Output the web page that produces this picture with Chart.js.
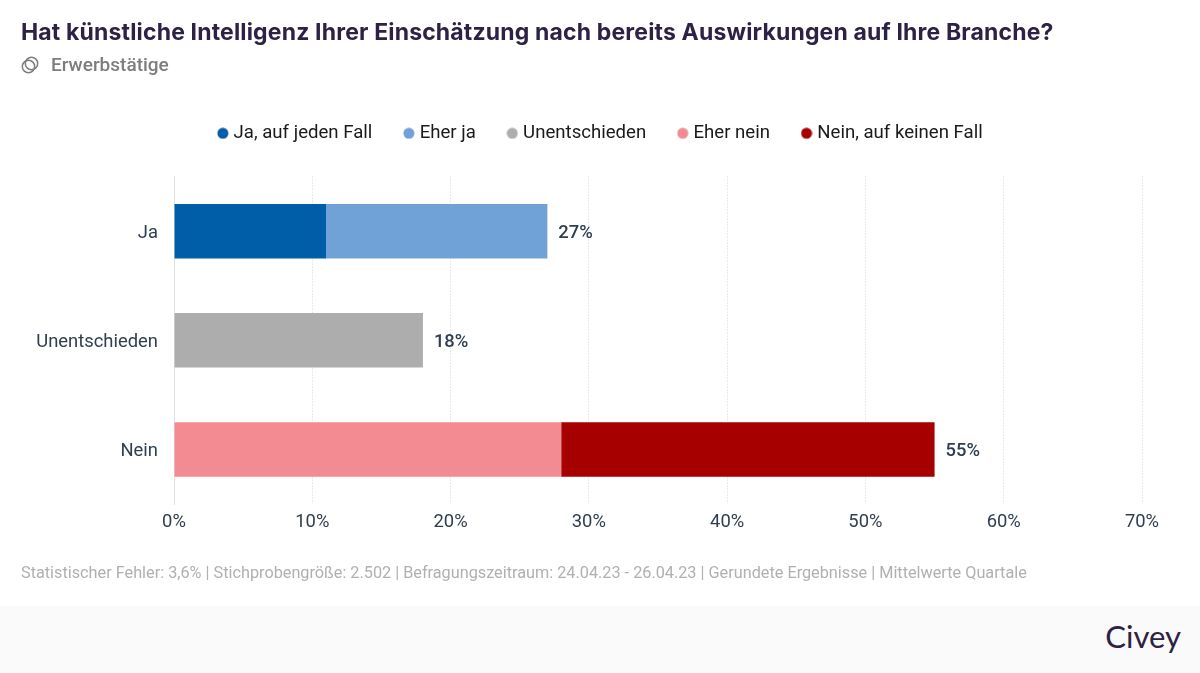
<!DOCTYPE html>
<html lang="de">
<head>
<meta charset="utf-8">
<title>Civey</title>
<script src="https://cdn.jsdelivr.net/npm/chart.js@4"></script>
<style>
  html, body { margin: 0; padding: 0; background: #fff; }
  #page { position: relative; width: 1200px; height: 673px; overflow: hidden; font-family: Roboto, sans-serif; }
  #chart { position: absolute; left: 0; top: 0; }
  #title { position: absolute; left: 21px; top: 17px; font: 700 23px/30px Inter, sans-serif; letter-spacing: 0.16px; color: #2d2145; white-space: nowrap; }
  #sub { position: absolute; left: 51px; top: 54px; font: 500 19px/22px Roboto, sans-serif; color: #7d7d7d; }
  #icon { position: absolute; left: 21px; top: 56px; }
  #note { position: absolute; left: 21px; top: 563px; font: 400 16.25px/20px Roboto, sans-serif; color: #b0b0b0; white-space: nowrap; }
  #footer { position: absolute; left: 0; top: 606px; width: 1200px; height: 67px; background: #fafafa; }
  #logo { position: absolute; right: 19px; top: 10px; font: 400 31px/40px Lato, sans-serif; color: #2d2145; }
</style>
</head>
<body>
<div id="page">
  <canvas id="chart" width="1200" height="606"></canvas>
  <div id="title">Hat künstliche Intelligenz Ihrer Einschätzung nach bereits Auswirkungen auf Ihre Branche?</div>
  <svg id="icon" width="19" height="19" viewBox="0 0 19 19" fill="none" stroke="#7d7d7d" stroke-width="1.5">
    <circle cx="7.5" cy="10.5" r="6.2"></circle>
    <circle cx="10.5" cy="7.5" r="6.2"></circle>
  </svg>
  <div id="sub">Erwerbstätige</div>
  <div id="note">Statistischer Fehler: 3,6% | Stichprobengröße: 2.502 | Befragungszeitraum: 24.04.23 - 26.04.23 | Gerundete Ergebnisse | Mittelwerte Quartale</div>
  <div id="footer"><div id="logo">Civey</div></div>
</div>
<script>
var categories = ['Ja', 'Unentschieden', 'Nein'];
var seriesNames = ['Ja, auf jeden Fall', 'Eher ja', 'Unentschieden', 'Eher nein', 'Nein, auf keinen Fall'];
var jaAufJedenFall = [11, 0, 0];
var eherJa = [16, 0, 0];
var unentschieden = [0, 18, 0];
var eherNein = [0, 0, 28];
var neinAufKeinenFall = [0, 0, 27];
var totals = [27, 18, 55];
var xTicks = [0, 10, 20, 30, 40, 50, 60, 70];
var colors = ['#005ea8', '#70a1d7', '#adadad', '#f28b92', '#a60000'];

// legend dots, chart.js ties the gap to the box size otherwise
function dot(color) {
  var c = document.createElement('canvas');
  c.width = 12;
  c.height = 12;
  var g = c.getContext('2d');
  g.fillStyle = color;
  g.beginPath();
  g.arc(6, 6, 5.5, 0, Math.PI * 2);
  g.fill();
  return c;
}

function makeSet(i, values) {
  return {
    label: seriesNames[i],
    data: values,
    backgroundColor: colors[i],
    pointStyle: dot(colors[i]),
    borderWidth: 0,
    categoryPercentage: 1,
    barPercentage: 0.5
  };
}

// total next to each bar
var totalLabels = {
  id: 'totalLabels',
  afterDatasetsDraw: function(chart) {
    var ctx = chart.ctx;
    var x = chart.scales.x;
    var y = chart.scales.y;
    ctx.save();
    ctx.font = '500 18.4px Roboto';
    ctx.fillStyle = '#2f3e50';
    ctx.textBaseline = 'middle';
    totals.forEach(function(t, i) {
      ctx.fillText(t + '%', x.getPixelForValue(t) + 11, y.getPixelForValue(i) + 2);
    });
    ctx.restore();
  }
};

// more room under the legend, and centre it on the page not the plot
var legendGap = {
  id: 'legendGap',
  beforeInit: function(chart) {
    var fit = chart.legend.fit;
    chart.legend.fit = function() {
      fit.call(this);
      this.height += 24;
    };
  },
  afterLayout: function(chart) {
    chart.legend.right = chart.width + 4;
  }
};

var myChart = new Chart(document.getElementById('chart').getContext('2d'), {
  type: 'bar',
  data: {
    labels: categories,
    datasets: [
      makeSet(0, jaAufJedenFall),
      makeSet(1, eherJa),
      makeSet(2, unentschieden),
      makeSet(3, eherNein),
      makeSet(4, neinAufKeinenFall)
    ]
  },
  options: {
    indexAxis: 'y',
    responsive: false,
    animation: false,
    layout: { padding: { top: 89, right: 58, left: 0, bottom: 0 } },
    plugins: {
      tooltip: { enabled: false },
      legend: {
        position: 'top',
        align: 'center',
        labels: {
          usePointStyle: true,
          boxWidth: 3,
          boxHeight: 3,
          padding: 35,
          color: '#1a1a1a',
          font: { family: 'Roboto', size: 18.6 }
        }
      }
    },
    scales: {
      x: {
        stacked: true,
        min: 0,
        max: 70,
        afterFit: function(scale) { scale.height = 102; },
        afterBuildTicks: function(scale) { scale.ticks = xTicks.map(function(v) { return { value: v }; }); },
        border: { display: false, dash: [1, 2] },
        grid: {
          color: function(c) { return c.tick.value === 0 ? 'transparent' : '#d4d4d4'; },
          lineWidth: 1,
          drawTicks: false,
          tickLength: 0
        },
        ticks: {
          maxRotation: 0,
          padding: 7,
          color: '#2f3e50',
          font: { family: 'Roboto', size: 18.4 },
          callback: function(v) { return v + '%'; }
        }
      },
      y: {
        stacked: true,
        // labels sit 2px lower than the bar centre in the original
        afterBuildTicks: function(scale) {
          scale.getPixelForTick = function(i) { return this.getPixelForValue(this.ticks[i].value) + 2; };
        },
        afterFit: function(scale) { scale.width = 174; },
        border: { display: true, color: '#e2e2e2', width: 1 },
        grid: { display: false, drawTicks: false },
        ticks: {
          padding: 16,
          color: '#2f3e50',
          font: { family: 'Roboto', size: 18.4 }
        }
      }
    }
  },
  plugins: [totalLabels, legendGap]
});
</script>
</body>
</html>
